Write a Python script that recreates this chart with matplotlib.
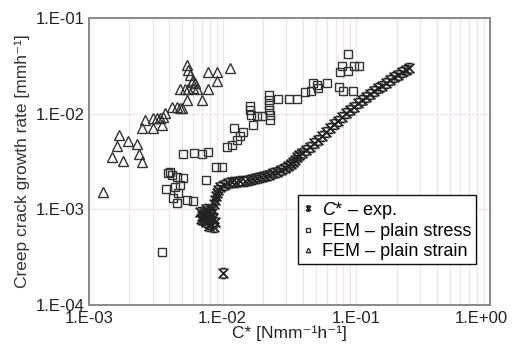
import numpy as np
import matplotlib
matplotlib.use("Agg")
import matplotlib.pyplot as plt
from matplotlib.path import Path
from matplotlib.transforms import ScaledTranslation
from matplotlib.ticker import FuncFormatter, LogLocator, NullFormatter

plt.rcParams['font.family'] = ['Liberation Sans', 'DejaVu Sans']
plt.rcParams['mathtext.fontset'] = 'custom'
plt.rcParams['mathtext.rm'] = 'Liberation Sans'
plt.rcParams['mathtext.it'] = 'Liberation Sans:italic'

# C* - experimental curve
cstar_x = [6.77e-3, 7.00e-3, 7.12e-3, 7.25e-3, 7.37e-3, 7.50e-3, 7.63e-3, 7.76e-3, 7.90e-3,
           8.04e-3, 8.18e-3, 8.32e-3, 8.46e-3, 8.61e-3, 8.76e-3, 7.50e-3, 6.88e-3, 7.90e-3,
           8.61e-3, 8.76e-3, 8.91e-3, 9.06e-3, 9.22e-3, 9.54e-3,
           1.02e-2, 1.10e-2, 1.17e-2, 1.26e-2, 1.35e-2, 1.47e-2, 1.57e-2, 1.69e-2, 1.81e-2,
           1.93e-2, 2.07e-2, 2.22e-2, 2.38e-2, 2.55e-2, 2.73e-2, 2.92e-2, 3.08e-2, 3.24e-2,
           3.36e-2, 3.47e-2, 3.59e-2, 3.72e-2,
           3.92e-2, 4.20e-2, 4.50e-2, 4.82e-2, 5.16e-2, 5.53e-2, 5.92e-2, 6.34e-2, 6.80e-2,
           7.28e-2, 7.80e-2, 8.36e-2, 8.95e-2, 9.59e-2, 0.1028, 0.1101, 0.1179, 0.1264,
           0.1354, 0.1451, 0.1554, 0.1665, 0.1784, 0.1911, 0.2047, 0.2193, 0.2350, 0.2474,
           1.005e-2]
cstar_y = [9.39e-4, 8.53e-4, 7.75e-4, 9.17e-4, 8.13e-4, 7.38e-4, 8.74e-4, 9.62e-4, 7.94e-4,
           7.04e-4, 8.95e-4, 1.01e-3, 8.13e-4, 6.55e-4, 7.38e-4, 1.01e-3, 7.94e-4, 6.71e-4,
           1.14e-3, 1.25e-3, 1.38e-3, 1.48e-3, 1.60e-3, 1.71e-3,
           1.80e-3, 1.89e-3, 1.93e-3, 1.93e-3, 1.98e-3, 1.98e-3, 2.03e-3, 2.08e-3, 2.13e-3,
           2.18e-3, 2.23e-3, 2.29e-3, 2.40e-3, 2.46e-3, 2.58e-3, 2.71e-3, 2.84e-3, 2.98e-3,
           3.13e-3, 3.28e-3, 3.53e-3, 3.70e-3,
           3.88e-3, 4.18e-3, 4.49e-3, 4.94e-3, 5.31e-3, 5.85e-3, 6.44e-3, 7.09e-3, 7.81e-3,
           8.39e-3, 9.24e-3, 1.02e-2, 1.09e-2, 1.17e-2, 1.29e-2, 1.39e-2, 1.49e-2, 1.61e-2,
           1.73e-2, 1.86e-2, 1.95e-2, 2.09e-2, 2.25e-2, 2.42e-2, 2.54e-2, 2.73e-2, 2.86e-2, 3.00e-2,
           2.17e-4]

# FEM - plain stress
stress_x = [3.52e-3, 3.77e-3, 3.90e-3, 4.03e-3, 4.18e-3, 4.55e-3, 5.05e-3, 4.40e-3, 4.63e-3,
            4.55e-3, 5.41e-3, 6.00e-3, 4.25e-3, 4.80e-3, 7.50e-3, 8.91e-3, 9.88e-3, 5.05e-3,
            6.10e-3, 7.00e-3, 7.76e-3, 1.08e-2, 1.17e-2, 1.28e-2, 1.35e-2, 1.42e-2, 1.22e-2,
            1.69e-2, 1.60e-2, 1.60e-2, 1.63e-2, 1.81e-2, 1.97e-2, 2.22e-2, 2.22e-2, 2.22e-2,
            2.22e-2, 2.26e-2, 2.26e-2, 2.59e-2, 3.13e-2, 3.60e-2, 4.13e-2, 4.57e-2, 4.73e-2,
            5.07e-2, 5.16e-2, 6.03e-2, 7.41e-2, 7.94e-2, 9.44e-2, 7.54e-2, 8.65e-2, 7.80e-2,
            9.60e-2, 1.04e-1, 8.65e-2]
stress_y = [3.59e-4, 1.63e-3, 2.40e-3, 2.46e-3, 2.29e-3, 2.18e-3, 2.13e-3, 1.71e-3, 1.48e-3,
            1.17e-3, 1.25e-3, 1.22e-3, 1.31e-3, 1.80e-3, 2.03e-3, 2.77e-3, 2.77e-3, 3.79e-3,
            3.88e-3, 3.79e-3, 3.98e-3, 4.49e-3, 4.71e-3, 5.31e-3, 5.85e-3, 6.44e-3, 7.09e-3,
            7.62e-3, 1.20e-2, 1.09e-2, 9.69e-3, 9.46e-3, 9.46e-3, 1.57e-2, 1.39e-2, 1.23e-2,
            1.09e-2, 9.69e-3, 8.59e-3, 1.43e-2, 1.43e-2, 1.43e-2, 1.69e-2, 1.73e-2, 2.09e-2,
            2.00e-2, 1.86e-2, 2.09e-2, 1.90e-2, 1.73e-2, 1.73e-2, 2.73e-2, 2.79e-2, 3.15e-2,
            3.15e-2, 3.15e-2, 4.21e-2]

# FEM - plain strain
strain_x = [5.41e-3, 5.50e-3, 5.69e-3, 6.00e-3, 6.21e-3, 5.89e-3, 7.76e-3, 9.06e-3, 1.13e-2,
            9.06e-3, 4.80e-3, 5.23e-3, 5.50e-3, 6.00e-3, 6.42e-3, 7.76e-3, 7.00e-3, 5.41e-3,
            4.18e-3, 4.55e-3, 4.80e-3, 4.97e-3, 3.70e-3, 3.57e-3, 3.40e-3, 3.23e-3, 3.01e-3,
            2.62e-3, 2.49e-3, 3.01e-3, 3.51e-3, 1.68e-3, 1.62e-3, 1.96e-3, 2.29e-3, 1.49e-3,
            1.80e-3, 2.37e-3, 2.49e-3, 1.27e-3]
strain_y = [3.23e-2, 2.86e-2, 2.54e-2, 2.25e-2, 2.09e-2, 2.14e-2, 2.73e-2, 2.73e-2, 3.00e-2,
            2.20e-2, 1.81e-2, 1.81e-2, 1.81e-2, 1.86e-2, 1.81e-2, 1.81e-2, 1.39e-2, 1.39e-2,
            1.17e-2, 1.17e-2, 1.15e-2, 1.15e-2, 1.02e-2, 9.25e-3, 9.02e-3, 9.02e-3, 9.02e-3,
            8.59e-3, 7.09e-3, 7.09e-3, 7.62e-3, 5.98e-3, 4.59e-3, 5.18e-3, 4.82e-3, 3.53e-3,
            3.21e-3, 3.79e-3, 3.13e-3, 1.52e-3]

# hourglass-like cross marker used for the experimental points
cross = Path([(-1, -1), (1, 1), (-1, 1), (1, -1), (-0.6, 1), (0.6, 1), (-0.6, -1), (0.6, -1)],
             [Path.MOVETO, Path.LINETO, Path.MOVETO, Path.LINETO,
              Path.MOVETO, Path.LINETO, Path.MOVETO, Path.LINETO])

fig = plt.figure(figsize=(5.13, 3.45), dpi=100)
ax = fig.add_axes([0.1735, 0.116, 0.7815, 0.832])

ax.plot(cstar_x, cstar_y, ls='none', marker=cross, ms=7, mew=1.3, color='#222222',
        label='$C$* – exp.', zorder=3)
ax.plot(stress_x, stress_y, ls='none', marker='s', ms=6, mew=1.0, mfc='none', mec='#333333',
        label='FEM – plain stress', zorder=2)
ax.plot(strain_x, strain_y, ls='none', marker='^', ms=6.5, mew=1.0, mfc='none', mec='#333333',
        label='FEM – plain strain', zorder=2)

ax.set_xscale('log')
ax.set_yscale('log')
ax.set_xlim(1e-3, 1e0)
ax.set_ylim(1e-4, 1e-1)

ax.xaxis.set_major_locator(LogLocator(base=10, numticks=10))
ax.xaxis.set_minor_locator(LogLocator(base=10, subs=np.arange(2, 10), numticks=30))
ax.yaxis.set_major_locator(LogLocator(base=10, numticks=10))
ax.yaxis.set_minor_locator(LogLocator(base=10, subs=np.arange(2, 10), numticks=30))
fmt = FuncFormatter(lambda v, p: "1.E{:+03d}".format(int(round(np.log10(v)))))
ax.xaxis.set_major_formatter(fmt)
ax.yaxis.set_major_formatter(fmt)
ax.xaxis.set_minor_formatter(NullFormatter())
ax.yaxis.set_minor_formatter(NullFormatter())

ax.grid(True, which='both', axis='x', color='#f1e6e6', lw=0.9)
ax.grid(True, which='major', axis='y', color='#f1e6e6', lw=0.9)
ax.set_axisbelow(True)
ax.tick_params(which='both', length=0, labelsize=12, colors='#222222')
ax.tick_params(axis='x', pad=4)
ax.tick_params(axis='y', pad=3)
for s in ax.spines.values():
    s.set_color('#8a8a8a')
    s.set_linewidth(1.4)

ax.set_xlabel('C* [Nmm⁻¹h⁻¹]', fontsize=12.5, labelpad=0, color='#222222')
ax.set_ylabel('Creep crack growth rate [mmh⁻¹]', fontsize=12.5, labelpad=4, color='#333333')

leg = ax.legend(loc='upper left', bbox_to_anchor=(0.521, 0.383), borderaxespad=0,
                fontsize=13, markerscale=0.5, handlelength=0.6, handletextpad=0.5,
                borderpad=0.25, labelspacing=0.15, fancybox=False, framealpha=1)
leg.get_frame().set_edgecolor('#111111')
leg.get_frame().set_linewidth(1.0)

# pull the last x label (1.E+00) a bit left so it stays inside the figure
fig.canvas.draw()
last = ax.xaxis.get_majorticklabels()
for lab in last:
    if lab.get_text() == '1.E+00':
        lab.set_transform(lab.get_transform() + ScaledTranslation(-6 / 72, 0, fig.dpi_scale_trans))

fig.savefig('out.png', dpi=100)
